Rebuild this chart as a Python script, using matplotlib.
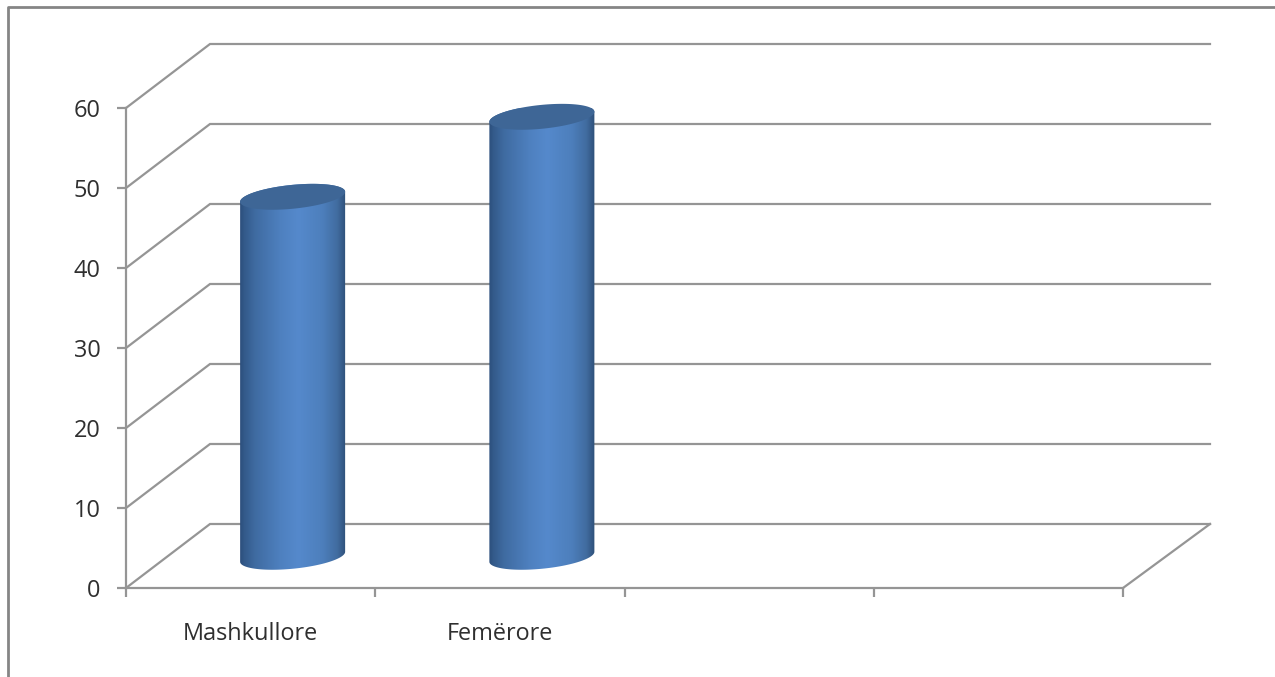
import numpy as np
import matplotlib
matplotlib.use("Agg")
import matplotlib.pyplot as plt
from matplotlib.colors import LinearSegmentedColormap
from matplotlib.lines import Line2D
from matplotlib.patches import Polygon

categories = ["Mashkullore", "Femërore"]
values = [45, 55]
y_ticks = [0, 10, 20, 30, 40, 50, 60]
slot_count = 4

W, H = 1275, 677
LINE = "#959595"
TEXT = "#2f2f2f"
CAP = "#3e6696"
FONT_SIZE = 16.9

plt.rcParams["font.family"] = ["Open Sans", "DejaVu Sans"]

fig = plt.figure(figsize=(W / 100, H / 100), dpi=100, facecolor="white")

# Outer chart frame, running off the right and bottom of the canvas
fig.add_artist(Line2D([7.8 / W, 7.8 / W, 1], [0, 1 - 6.8 / H, 1 - 6.8 / H],
                      transform=fig.transFigure, color="#858585", lw=2.0))

# Front plane of the pseudo-3D plot
ax = fig.add_axes([126 / W, (H - 588) / H, 997 / W, 480 / H])
ax.set_xlim(0, slot_count)
ax.set_ylim(0, 60)
px_x = 997 / slot_count
px_y = 480 / 60

# Depth offset of the back wall, in data units
depth_x = 84 / px_x
depth_x_right = 87 / px_x
depth_y = 64 / px_y

for v in y_ticks:
    ax.plot([0, depth_x, slot_count + depth_x_right],
            [v, v + depth_y, v + depth_y],
            color=LINE, lw=1.6, clip_on=False, zorder=1, solid_joinstyle="miter")
ax.plot([slot_count, slot_count + depth_x_right], [0, depth_y],
        color=LINE, lw=1.6, clip_on=False, zorder=1)

for side in ("top", "right"):
    ax.spines[side].set_visible(False)
for side in ("left", "bottom"):
    ax.spines[side].set_color(LINE)
    ax.spines[side].set_linewidth(1.6)

ax.set_yticks(y_ticks)
ax.set_xticks(range(slot_count + 1))
ax.set_xticklabels([])
ax.set_xticks([i + 0.5 for i in range(len(categories))], categories, minor=True)
ax.tick_params(axis="both", which="major", color=LINE, width=1.6, length=6.5,
               labelsize=FONT_SIZE, labelcolor=TEXT)
ax.tick_params(axis="y", which="major", pad=12)
ax.tick_params(axis="x", which="minor", length=0, labelsize=FONT_SIZE,
               labelcolor=TEXT, pad=24.5)

# Cylinder shading across the width of each column
shade = LinearSegmentedColormap.from_list("cylinder", [
    (0.00, "#2c4f7c"), (0.04, "#335a8a"), (0.14, "#3f6ba1"), (0.38, "#4e80bf"),
    (0.55, "#5589cc"), (0.78, "#4d7fbc"), (0.92, "#416ca0"), (1.00, "#2e5079"),
])
gradient = np.linspace(0, 1, 256)[np.newaxis, :]

# Ellipse of the column ends, in pixels
half_major, half_minor = 52.75, 11.9
tilt = np.deg2rad(5.72)


def ellipse_outline(cx, cy, t):
    """Tilted ellipse points around a centre given in data units."""
    ex = half_major * np.cos(t) * np.cos(tilt) - half_minor * np.sin(t) * np.sin(tilt)
    ey = half_major * np.cos(t) * np.sin(tilt) + half_minor * np.sin(t) * np.cos(tilt)
    return cx + ex / px_x, cy + ey / px_y


# Parameter values at the left and right extremes of the tilted ellipse
t_right = np.arctan2(-half_minor * np.sin(tilt), half_major * np.cos(tilt))
t_left = t_right + np.pi

for i, value in enumerate(values):
    cx = i + 0.5 + depth_x / 2
    base = depth_y / 2 - 0.1
    top = base + value

    # Lower rim sweeps from the left extreme under to the right extreme
    t_low = np.linspace(t_left, t_right + 2 * np.pi, 80)
    bx, by = ellipse_outline(cx, base, t_low)
    # Upper rim closes the silhouette back across the top ellipse
    t_up = np.linspace(t_right, t_left, 80)
    ux, uy = ellipse_outline(cx, top, t_up)
    outline = np.column_stack([np.r_[bx, ux], np.r_[by, uy]])
    body = Polygon(outline, closed=True, transform=ax.transData,
                   facecolor="none", edgecolor="none")
    ax.add_patch(body)

    left, right = outline[:, 0].min(), outline[:, 0].max()
    im = ax.imshow(gradient, cmap=shade, aspect="auto", interpolation="bilinear",
                   extent=(left, right, by.min() - 1, uy.max() + 1), zorder=3)
    im.set_clip_path(body)

    tx, ty = ellipse_outline(cx, top, np.linspace(0, 2 * np.pi, 160))
    ax.fill(tx, ty, color=CAP, lw=0, zorder=4, clip_on=False)

ax.set_xlim(0, slot_count)
ax.set_ylim(0, 60)
ax.patch.set_alpha(0)

fig.savefig("out.png", dpi=100, facecolor="white")
